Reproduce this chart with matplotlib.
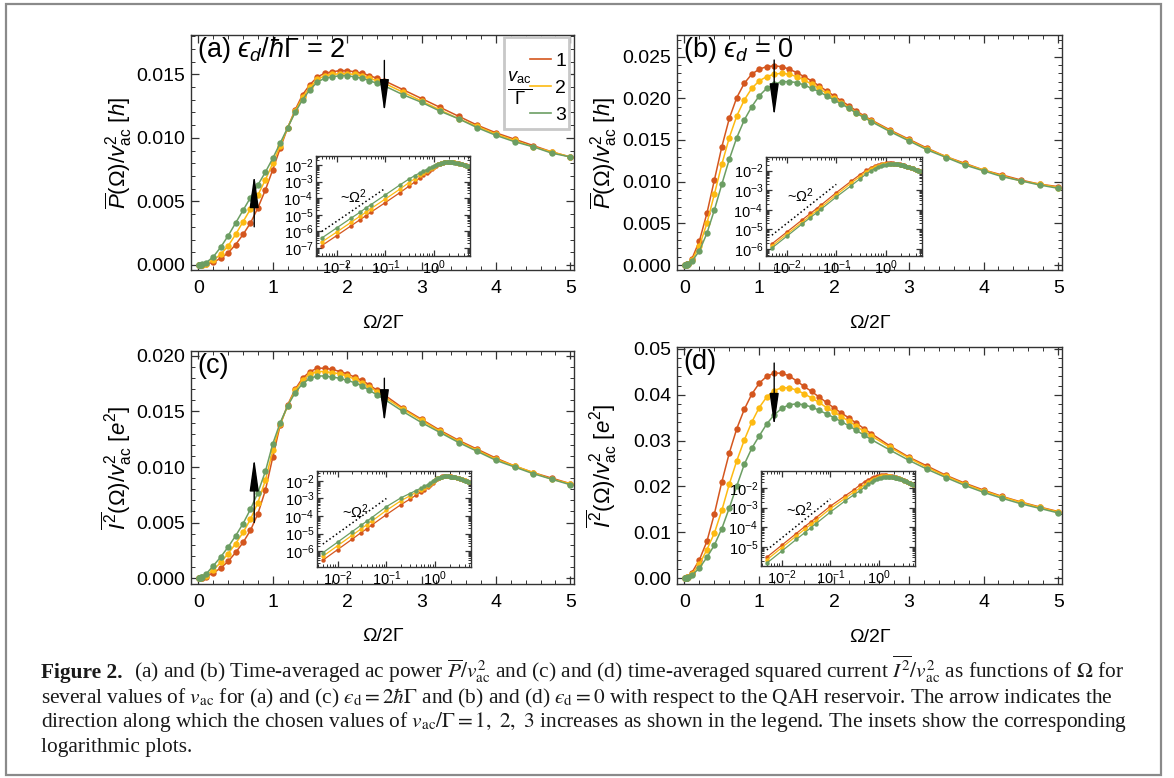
import matplotlib
matplotlib.use('Agg')
import matplotlib.pyplot as plt
import matplotlib.ticker as plticker
from matplotlib.patches import Rectangle
from matplotlib.lines import Line2D

plt.rcParams['font.family'] = ['Liberation Sans', 'DejaVu Sans']
plt.rcParams['mathtext.fontset'] = 'custom'
plt.rcParams['mathtext.rm'] = 'Liberation Sans'
plt.rcParams['mathtext.it'] = 'Liberation Sans:italic'
plt.rcParams['mathtext.bf'] = 'Liberation Sans:bold'
plt.rcParams['mathtext.fallback'] = 'stixsans'

# Omega / 2Gamma
omega = [0.005, 0.01, 0.02, 0.03, 0.04, 0.05, 0.1,
         0.2, 0.3, 0.4, 0.5, 0.6, 0.7, 0.8, 0.9, 1.0, 1.1, 1.2, 1.3, 1.4, 1.5,
         1.6, 1.7, 1.8, 1.9, 2.0, 2.1, 2.2, 2.3, 2.4, 2.5,
         2.75, 3.0, 3.25, 3.5, 3.75, 4.0, 4.25, 4.5, 4.75, 5.0]

vac_labels = ['1', '2', '3']

# (a) power, eps_d = 2 hbar Gamma
p_a_v1 = [1.4e-7, 5.5e-7, 2.2e-6, 5.0e-6, 8.8e-6, 1.4e-5, 5.5e-5,
          2.2e-4, 5.2e-4, 9.5e-4, .0016, .0024, .0033, .0045, .0059, .0075, .0092, .0108, .0122, .0134, .0142,
          .0148, .0151, .0152, .0153, .0153, .0152, .0151, .0149, .0147, .0145,
          .0138, .0131, .0124, .0117, .0110, .0104, .0099, .0094, .0089, .0085]
p_a_v2 = [2.3e-7, 9.0e-7, 3.6e-6, 8.1e-6, 1.4e-5, 2.3e-5, 9.0e-5,
          3.6e-4, 8.5e-4, .0015, .0024, .0034, .0044, .0055, .0067, .0080, .0094, .0108, .0121, .0132, .0140,
          .0146, .0149, .0150, .01505, .01505, .0150, .0149, .0147, .0145, .0143,
          .0136, .0129, .0122, .0115, .0109, .0103, .0098, .0093, .0089, .0085]
p_a_v3 = [4.0e-7, 1.6e-6, 6.4e-6, 1.4e-5, 2.6e-5, 4.0e-5, 1.6e-4,
          6.4e-4, .0014, .0023, .0033, .0043, .0053, .0063, .0073, .0084, .0096, .0108, .0120, .0130, .0138,
          .0144, .0147, .0148, .0149, .0149, .0148, .0147, .0145, .0143, .0141,
          .0134, .0128, .0121, .0115, .0108, .0102, .0097, .0093, .0088, .0085]

# (b) power, eps_d = 0
p_b_v1 = [1.8e-6, 7.2e-6, 2.9e-5, 6.5e-5, 1.15e-4, 1.8e-4, 7.5e-4,
          .0029, .0062, .0102, .0142, .0176, .0201, .0218, .0229, .0235, .0238, .0239, .0238, .0235, .0231,
          .0226, .0221, .0215, .0209, .0203, .0197, .0191, .0185, .0179, .0174,
          .0162, .0151, .0140, .0130, .0122, .0114, .0108, .0102, .0097, .0094]
p_b_v2 = [1.4e-6, 5.6e-6, 2.2e-5, 5.0e-5, 9.0e-5, 1.4e-4, 5.8e-4,
          .0023, .0050, .0085, .0121, .0153, .0179, .0198, .0212, .0221, .0226, .0229, .0230, .0229, .0226,
          .0222, .0217, .0212, .0206, .0200, .0195, .0189, .0183, .0178, .0173,
          .0161, .0150, .0139, .0130, .0121, .0114, .0107, .0101, .0097, .0093]
p_b_v3 = [1.1e-6, 4.4e-6, 1.8e-5, 4.0e-5, 7.0e-5, 1.1e-4, 4.5e-4,
          .0017, .0038, .0066, .0097, .0127, .0153, .0174, .0190, .0203, .0212, .0217, .0220, .0220, .0219,
          .0216, .0212, .0208, .0203, .0198, .0193, .0188, .0182, .0177, .0172,
          .0160, .0149, .0138, .0129, .0120, .0113, .0106, .0101, .0096, .0092]

# (c) squared current, eps_d = 2 hbar Gamma
i_c_v1 = [3.0e-7, 1.2e-6, 4.8e-6, 1.1e-5, 1.9e-5, 3.0e-5, 1.2e-4,
          4.5e-4, 9.0e-4, .0015, .0023, .0032, .0043, .0058, .0079, .0109, .0138, .0156, .0170, .0180, .0186,
          .0189, .0189, .0188, .0186, .0184, .0181, .0178, .0174, .0169, .0165,
          .0153, .0143, .0133, .0124, .0116, .0108, .0101, .0095, .0090, .0085]
i_c_v2 = [5.0e-7, 2.0e-6, 8.0e-6, 1.8e-5, 3.2e-5, 5.0e-5, 2.1e-4,
          7.5e-4, .0014, .0022, .0031, .0041, .0053, .0068, .0088, .0115, .0139, .0155, .0169, .0178, .0184,
          .0186, .0186, .0185, .0184, .0182, .0179, .0176, .0172, .0168, .0163,
          .0152, .0142, .0132, .0123, .0115, .0107, .0101, .0095, .0089, .0085]
i_c_v3 = [8.0e-7, 3.2e-6, 1.3e-5, 2.9e-5, 5.1e-5, 8.0e-5, 3.4e-4,
          .0011, .0019, .0028, .0038, .0049, .0062, .0077, .0096, .0121, .0140, .0155, .0167, .0175, .0180,
          .0182, .0182, .0181, .0180, .0178, .0176, .0173, .0169, .0165, .0161,
          .0150, .0140, .0131, .0122, .0114, .0106, .0100, .0094, .0089, .0084]

# (d) squared current, eps_d = 0
i_d_v1 = [3.0e-6, 1.2e-5, 4.8e-5, 1.1e-4, 1.9e-4, 3.0e-4, 1.2e-3,
          .0040, .0080, .0140, .0210, .0273, .0326, .0368, .0401, .0425, .0440, .0447, .0447, .0441, .0430,
          .0418, .0407, .0395, .0383, .0371, .0360, .0349, .0338, .0326, .0315,
          .0288, .0264, .0244, .0224, .0207, .0192, .0178, .0166, .0155, .0145]
i_d_v2 = [2.2e-6, 9.0e-6, 3.6e-5, 8.1e-5, 1.4e-4, 2.2e-4, 9.0e-4,
          .0030, .0062, .0098, .0148, .0205, .0256, .0301, .0340, .0372, .0395, .0409, .0415, .0415, .0410,
          .0402, .0393, .0383, .0372, .0362, .0352, .0342, .0331, .0320, .0310,
          .0285, .0262, .0241, .0222, .0205, .0190, .0177, .0165, .0154, .0144]
i_d_v3 = [1.5e-6, 6.0e-6, 2.4e-5, 5.4e-5, 9.6e-5, 1.5e-4, 6.0e-4,
          .0022, .0045, .0072, .0108, .0153, .0201, .0248, .0283, .0310, .0336, .0356, .0370, .0378, .0380,
          .0378, .0373, .0366, .0358, .0350, .0341, .0332, .0322, .0312, .0302,
          .0279, .0257, .0237, .0219, .0202, .0187, .0174, .0162, .0152, .0142]

# ~Omega^2 guide in the insets
guide_x = [0.005, 0.1]
guide_a = [1.0e-6, 4.0e-4]
guide_b = [5.0e-6, 2.0e-3]
guide_c = [2.5e-6, 1.0e-3]
guide_d = [7.0e-6, 2.8e-3]

# arrows: (x, y_start, y_end)
arrows_a = [(0.75, 0.0030, 0.0071), (2.5, 0.0161, 0.0120)]
arrows_b = [(1.2, 0.0246, 0.0178)]
arrows_c = [(0.75, 0.0050, 0.0108), (2.5, 0.0180, 0.0140)]
arrows_d = [(1.2, 0.0469, 0.0331)]

colors = ['#D4561E', '#FDBA12', '#6C9E63']
frame_col = '#333333'
EPS = '\u03f5'  # lunate epsilon

W, H = 1174, 778
fig = plt.figure(figsize=(W / 100, H / 100), dpi=100)


def px_rect(l, t, r, b):
    return [l / W, 1 - b / H, (r - l) / W, (b - t) / H]


def style_frame(ax, size, major_len, minor_len):
    for s in ax.spines.values():
        s.set_color(frame_col)
        s.set_linewidth(1.0)
    ax.tick_params(which='both', direction='in', top=True, right=True,
                   color=frame_col, labelsize=size)
    ax.tick_params(which='major', length=major_len, width=0.9)
    ax.tick_params(which='minor', length=minor_len, width=0.7)


def main_panel(rect, series, ylim, ystep, ymin_step, fmt, ylabel, label, arrows):
    ax = fig.add_axes(px_rect(*rect))
    for ys, c in zip(series, colors):
        ax.plot(omega, ys, '-', color=c, lw=1.1, marker='o', ms=4.6,
                mec='none', zorder=2)
    ax.set_xlim(-0.1, 5.05)
    ax.set_ylim(*ylim)
    ax.xaxis.set_major_locator(plticker.MultipleLocator(1))
    ax.xaxis.set_minor_locator(plticker.MultipleLocator(0.2))
    ax.yaxis.set_major_locator(plticker.MultipleLocator(ystep))
    ax.yaxis.set_minor_locator(plticker.MultipleLocator(ymin_step))
    ax.yaxis.set_major_formatter(plticker.FormatStrFormatter(fmt))
    ax.xaxis.set_major_formatter(plticker.FormatStrFormatter('%d'))
    style_frame(ax, 14, 6, 3)
    ax.tick_params(axis='x', pad=7)
    ax.tick_params(axis='y', pad=4)
    ax.set_xlabel('Ω/2Γ', fontsize=14)
    ax.xaxis.set_label_coords(0.5, -0.19)
    ax.set_ylabel(ylabel, fontsize=16)
    ax.yaxis.set_label_coords(-0.15, 0.5)
    ax.text(0.016, 0.935, label, transform=ax.transAxes, fontsize=19.5,
            ha='left', va='center')
    for x, y0, y1 in arrows:
        ax.annotate('', xy=(x, y1), xytext=(x, y0),
                    arrowprops=dict(arrowstyle='-|>,head_length=1.0,head_width=0.14',
                                    color='black', lw=1.0, mutation_scale=20,
                                    shrinkA=0, shrinkB=0), zorder=5)
    return ax


def inset_panel(rect, series, ylim, guide, text_xy):
    ax = fig.add_axes(px_rect(*rect), facecolor='white', zorder=3)
    for ys, c in zip(series, colors):
        ax.plot(omega, ys, '-', color=c, lw=0.9, marker='o', ms=3.2,
                mec='none')
    ax.plot(guide_x, guide, ':', color='black', lw=1.1)
    ax.set_xscale('log')
    ax.set_yscale('log')
    ax.set_xlim(0.0038, 5.4)
    ax.set_ylim(*ylim)
    ax.xaxis.set_major_locator(plticker.FixedLocator([1e-2, 1e-1, 1e0]))
    ax.xaxis.set_minor_locator(plticker.LogLocator(base=10, subs=range(2, 10), numticks=20))
    ax.yaxis.set_major_locator(plticker.LogLocator(base=10, numticks=20))
    ax.yaxis.set_minor_locator(plticker.LogLocator(base=10, subs=range(2, 10), numticks=20))
    ax.xaxis.set_minor_formatter(plticker.NullFormatter())
    ax.yaxis.set_minor_formatter(plticker.NullFormatter())
    style_frame(ax, 10.5, 4, 2)
    ax.tick_params(axis='x', pad=1.5)
    ax.tick_params(axis='y', pad=2)
    ax.text(text_xy[0], text_xy[1], r'~$\Omega^2$', transform=ax.transAxes,
            fontsize=10.5, ha='center', va='center')
    return ax


ylabel_P = r'$\overline{P}(\Omega)/v_{\rm ac}^{2}$ [$h$]'
ylabel_I = r'$\overline{I^{2}}(\Omega)/v_{\rm ac}^{2}$ [$e^{2}$]'
label_a = '(a) $' + EPS + r'_d/\hbar\Gamma$ = 2'
label_b = '(b) $' + EPS + '_d$ = 0'

ax_a = main_panel((191, 35, 574, 270), [p_a_v1, p_a_v2, p_a_v3], (-0.0004, 0.0181),
                  0.005, 0.001, '%.3f', ylabel_P, label_a, arrows_a)
ax_b = main_panel((677, 35, 1062, 270), [p_b_v1, p_b_v2, p_b_v3], (-0.0006, 0.0276),
                  0.005, 0.001, '%.3f', ylabel_P, label_b, arrows_b)
ax_c = main_panel((191, 351, 574, 584), [i_c_v1, i_c_v2, i_c_v3], (-0.00054, 0.02045),
                  0.005, 0.001, '%.3f', ylabel_I, '(c)', arrows_c)
ax_d = main_panel((677, 347, 1062, 584), [i_d_v1, i_d_v2, i_d_v3], (-0.0013, 0.0504),
                  0.01, 0.002, '%.2f', ylabel_I, '(d)', arrows_d)

inset_panel((316, 156, 470, 256), [p_a_v1, p_a_v2, p_a_v3], (3.3e-8, 3.5e-2), guide_a, (0.24, 0.59))
inset_panel((766, 157, 922, 256), [p_b_v1, p_b_v2, p_b_v3], (4.3e-7, 5.0e-2), guide_b, (0.22, 0.61))
inset_panel((317, 471, 471, 567), [i_c_v1, i_c_v2, i_c_v3], (1.23e-7, 3.7e-2), guide_c, (0.25, 0.58))
inset_panel((761, 471, 915, 566), [i_d_v1, i_d_v2, i_d_v3], (1.07e-6, 7.4e-2), guide_d, (0.25, 0.59))

# legend of panel (a)
ax_a.add_patch(Rectangle((0.817, 0.600), 0.170, 0.391, transform=ax_a.transAxes,
                         facecolor='white', edgecolor='#C8C8C8', lw=2, zorder=6))
handles = [Line2D([], [], color=c, lw=1.2) for c in colors]
leg = ax_a.legend(handles, vac_labels, loc='upper left', bbox_to_anchor=(0.885, 0.925),
                  frameon=False, fontsize=14, handlelength=1.1, handletextpad=0.2,
                  labelspacing=0.48, borderpad=0, borderaxespad=0)
leg.set_zorder(7)
ax_a.text(0.858, 0.775, r'$\frac{v_{\rm ac}}{\Gamma}$', transform=ax_a.transAxes,
          fontsize=19, ha='center', va='center', zorder=7)

# outer frame
fig.patches.append(Rectangle((6 / W, 1 - 775 / H), (1161 - 6) / W, (775 - 4) / H,
                             transform=fig.transFigure, facecolor='none',
                             edgecolor='#8A8A8A', lw=1.6))

# caption
cap_kw = dict(fontsize=15.4, fontfamily='Liberation Serif', math_fontfamily='stix',
              color='#1A1A1A', va='baseline', ha='left')
line1 = (r'(a) and (b) Time-averaged ac power $\overline{P}/v_{\rm ac}^{2}$ and (c) and (d) '
         r'time-averaged squared current $\overline{I^{2}}/v_{\rm ac}^{2}$ as functions of $\Omega$ for')
line2 = ('several values of $v_{\\rm ac}$ for (a) and (c) $' + EPS + r'_{\rm d}=2\hbar\Gamma$ and (b) and (d) '
         '$' + EPS + r'_{\rm d}=0$ with respect to the QAH reservoir. The arrow indicates the')
line3 = (r'direction along which the chosen values of $v_{\rm ac}/\Gamma=1,\ 2,\ 3$ increases as shown '
         r'in the legend. The insets show the corresponding')
line4 = 'logarithmic plots.'

x0 = 41 / W
bold = fig.text(x0, 1 - 678 / H, 'Figure 2.', fontweight='bold', **cap_kw)
fig.canvas.draw()
bb = bold.get_window_extent(fig.canvas.get_renderer())
fig.text((bb.x1 + 11) / W, 1 - 678 / H, line1, **cap_kw)
fig.text(x0, 1 - 703 / H, line2, **cap_kw)
fig.text(x0, 1 - 727 / H, line3, **cap_kw)
fig.text(x0, 1 - 752 / H, line4, **cap_kw)

fig.savefig('out.png', dpi=100)
